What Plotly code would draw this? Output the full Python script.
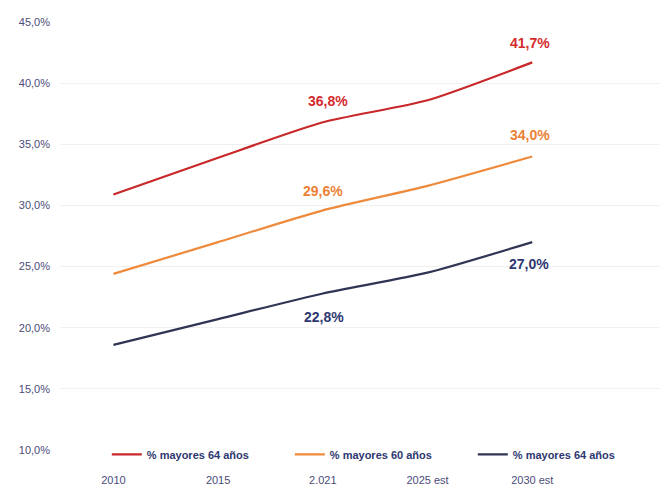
import plotly.graph_objects as go

categories = ["2010", "2015", "2.021", "2025 est", "2030 est"]
red_vals = [30.9, 33.9, 36.8, 38.6, 41.7]
orange_vals = [24.4, 27.0, 29.6, 31.6, 34.0]
navy_vals = [18.6, 20.7, 22.8, 24.5, 27.0]
series_names = ["<b>% mayores 64 años</b>", "<b>% mayores 60 años</b>", "<b>% mayores 64 años</b>"]
y_ticks = [10, 15, 20, 25, 30, 35, 40, 45]
y_tick_labels = ["10,0%", "15,0%", "20,0%", "25,0%", "30,0%", "35,0%", "40,0%", "45,0%"]

colors = ["#c8282a", "#ee8a3c", "#2f3553"]
label_colors = ["#d42a2e", "#ec8136", "#2e3770"]

xs = list(range(len(categories)))
fig = go.Figure()
for vals, name, col in zip([red_vals, orange_vals, navy_vals], series_names, colors):
    fig.add_trace(go.Scatter(x=xs, y=vals, mode="lines", name=name,
                             line=dict(color=col, width=2.2, shape="spline", smoothing=0.6)))

# data labels
label_specs = [
    (red_vals, 2, label_colors[0], 21, 5),
    (red_vals, 4, label_colors[0], 19, -2),
    (orange_vals, 2, label_colors[1], 19, 0),
    (orange_vals, 4, label_colors[1], 22, -2),
    (navy_vals, 2, label_colors[2], -24, 1),
    (navy_vals, 4, label_colors[2], -22, -3),
]
for vals, i, col, yshift, xshift in label_specs:
    fig.add_annotation(x=xs[i], y=vals[i], text=f"<b>{vals[i]:.1f}%</b>".replace(".", ","),
                       showarrow=False, yshift=yshift, xshift=xshift,
                       font=dict(color=col, size=14, family="Liberation Sans"))

fig.update_layout(
    width=667, height=489,
    margin=dict(l=60, r=7, t=22, b=39, autoexpand=False),
    paper_bgcolor="white", plot_bgcolor="white",
    font=dict(family="Liberation Sans", color="#4b4b7a", size=10),
    showlegend=True,
    legend=dict(orientation="h", x=0.078, xanchor="left", y=-0.01, yanchor="middle",
                font=dict(size=11, color="#2e3770", family="Liberation Sans"),
                entrywidth=138, entrywidthmode="pixels", bgcolor="rgba(255,255,255,0)",
                itemwidth=30, traceorder="normal", tracegroupgap=0),
    xaxis=dict(range=[-0.51, 5.22], tickvals=xs, ticktext=categories, showgrid=False,
               zeroline=False, showline=False, ticks="", ticklabelstandoff=22,
               tickfont=dict(size=11, color="#4b4b7a")),
    yaxis=dict(range=[10, 45], tickvals=y_ticks, ticktext=y_tick_labels, showgrid=True,
               gridcolor="#f0f0f0", gridwidth=1, zeroline=False, showline=False,
               tickfont=dict(size=11, color="#4b4b7a"), ticklabelstandoff=9),
)
fig.write_html("out.html")
